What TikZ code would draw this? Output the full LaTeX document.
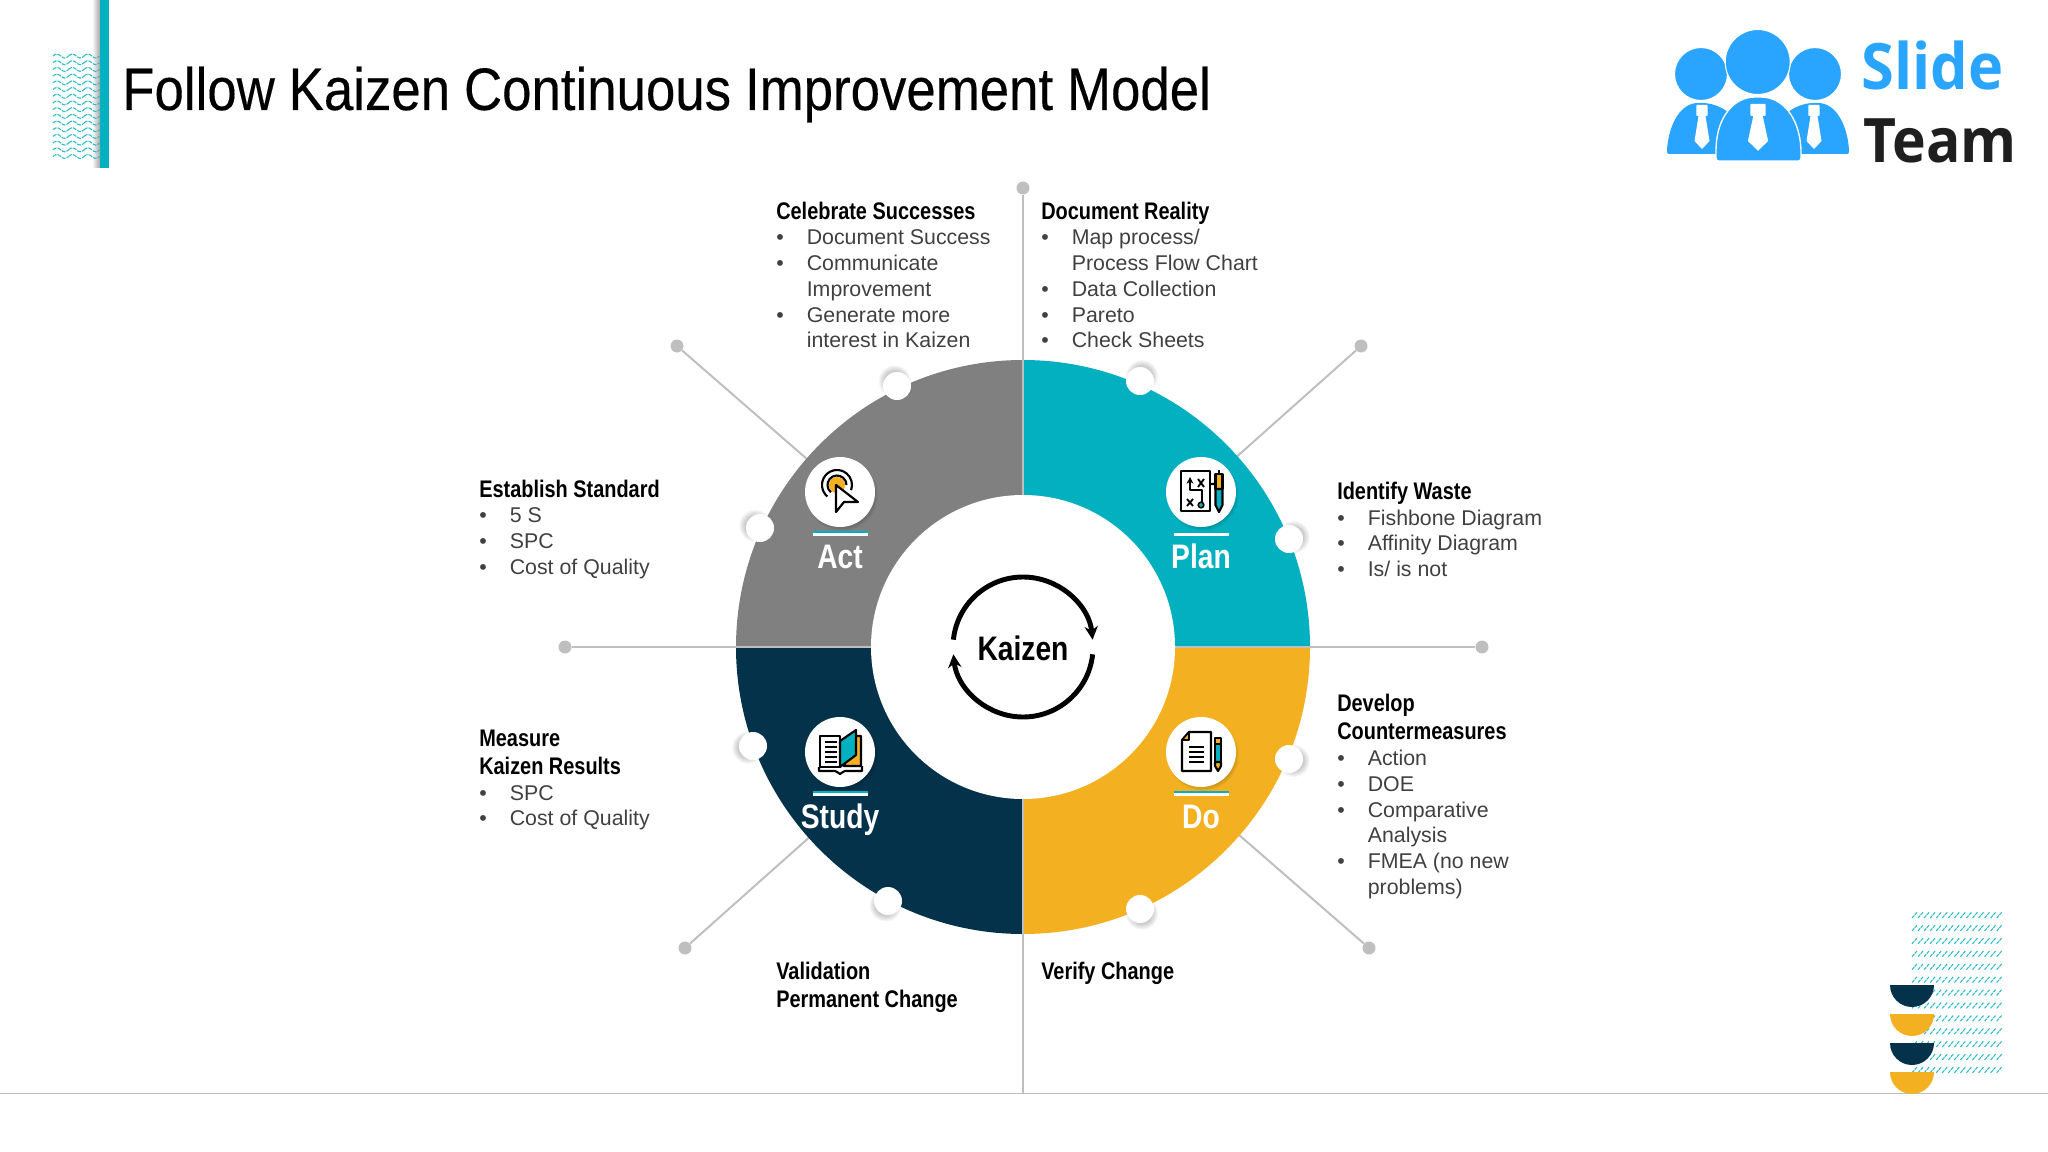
\documentclass[tikz,border=0pt]{standalone}
\usepackage{fontspec}
\usetikzlibrary{arrows.meta}
\setmainfont{Liberation Sans}
\newfontfamily\narrowf[FakeStretch=0.83]{Liberation Sans}
\newfontfamily\titlef[FakeStretch=0.88,WordSpace=0.95,FakeBold=0.25]{Liberation Sans}
\newfontfamily\logof[FakeStretch=0.93]{Open Sans}
\definecolor{plancol}{HTML}{03B0BF}
\definecolor{docol}{HTML}{F3B122}
\definecolor{studycol}{HTML}{04324B}
\definecolor{actcol}{HTML}{808080}
\definecolor{linecol}{HTML}{BFBFBF}
\definecolor{bodycol}{HTML}{404040}
\definecolor{logocol}{HTML}{2AA5FF}
\newcommand{\hd}[1]{{\narrowf\bfseries\color{black}\fontsize{18pt}{19.3pt}\selectfont #1}}
\newcommand{\bl}{\makebox[22.9pt][l]{\textbullet}}
\newcommand{\nb}{\hspace*{22.9pt}}
\newcommand{\softshadow}[3]{\foreach \k in {0,1,2,3,4,5} {\fill[black,opacity=.035] (#1,#2) circle ({#3+\k});}}
\begin{document}
\begin{tikzpicture}[x=0.75pt,y=-0.75pt]
    \tikzstyle{enddot}=[circle, fill=linecol, minimum size=9.75pt, inner sep=0pt]
    \tikzstyle{smalldot}=[circle, fill=white, minimum size=21pt, inner sep=0pt]
    \tikzstyle{icondot}=[circle, fill=white, minimum size=52.5pt, inner sep=0pt]
    \tikzstyle{phase}=[white, font=\narrowf\bfseries\fontsize{25.5pt}{28pt}\selectfont, text height=18pt, text depth=6pt, inner sep=0pt, node distance=51.7pt]
    \tikzstyle{txtblock}=[anchor=north west, align=left, inner sep=0pt, text=bodycol, font=\fontsize{16pt}{19.3pt}\selectfont]
    \tikzstyle{conn}=[draw=linecol, line width=1.5pt]
    \tikzstyle{ink}=[draw=black, line width=1.6pt, line join=round]
    \useasboundingbox (0,0) rectangle (2048,1152);

    % header
    \shade[left color=white, right color=black!35] (92,0) rectangle (100,168);
    \foreach \r in {0,...,15} {
        \foreach \c in {0,1,2} {
            \draw[plancol!85, line width=0.8pt, dash pattern=on 3pt off 0.8pt]
                (53+\c*15.5,56+\r*6.7) sin ++(3.9,-2) cos ++(3.9,2) sin ++(3.9,2) cos ++(3.9,-2);
        }
    }
    \fill[plancol] (100,0) rectangle (109,168);
    \node[anchor=base west, inner sep=0pt, font=\titlef\fontsize{45pt}{54pt}\selectfont] (title) at (122,110) {Follow Kaizen Continuous Improvement Model};

    % logo
    \begin{scope}[fill=logocol]
        \fill[rounded corners=1.5pt] (1667,154) -- (1667,150) .. controls (1669,125) and (1680,103) .. (1700,103) .. controls (1712,103) and (1722,107) .. (1730,114) -- (1730,154) -- cycle;
        \fill[rounded corners=1.5pt] (1849,154) -- (1849,150) .. controls (1847,125) and (1836,103) .. (1816,103) .. controls (1804,103) and (1794,107) .. (1786,114) -- (1786,154) -- cycle;
        \filldraw[draw=white, line width=1pt, rounded corners=2pt] (1716,161) -- (1716,150) .. controls (1717,118) and (1733,97) .. (1758,97) .. controls (1783,97) and (1799,118) .. (1801,150) -- (1801,161) -- cycle;
        \filldraw[draw=white, line width=0.8pt] (1701,74) circle (26.5);
        \filldraw[draw=white, line width=0.8pt] (1815,74) circle (26.5);
        \filldraw[draw=white, line width=0.8pt] (1757.7,62) circle (32.5);
    \end{scope}
    \foreach \t/\w in {1702/1,1814/1,1758/1.35} {
        \fill[white, rounded corners=0.6pt] (\t-5.6*\w,105-3*\w+3) rectangle (\t+5.6*\w,116);
        \fill[white] (\t-3.5*\w,116) -- (\t+3.5*\w,116) -- (\t+7.5*\w,141) -- (\t,149+5*\w-5) -- (\t-7.5*\w,141) -- cycle;
    }
    \node[anchor=base west, inner sep=0pt, text=logocol, font=\logof\bfseries\fontsize{48pt}{52pt}\selectfont] (slide) at (1861,90) {Slide};
    \node[anchor=base west, inner sep=0pt, text=black!88, font=\logof\bfseries\fontsize{46pt}{52pt}\selectfont] (team) at (1863,162) {Team};

    % connectors behind the ring
    \coordinate (hubc) at (1023,647);
    \coordinate (botend) at (1023,1093);
    \node[enddot] (dotN) at (1023,188) {};
    \node[enddot] (dotW) at (565,647) {};
    \node[enddot] (dotE) at (1482,647) {};
    \node[enddot] (dotNW) at (677,346) {};
    \node[enddot] (dotNE) at (1361,346) {};
    \node[enddot] (dotSW) at (685,948) {};
    \node[enddot] (dotSE) at (1369,948) {};
    \foreach \d in {dotNW,dotNE,dotSW,dotSE} {
        \draw[conn] (\d) -- (hubc);
    }
    \draw[black!25, line width=0.75pt] (0,1093) -- (2048,1093);

    % ring
    \fill[plancol] (hubc) -- ++(-90:287) arc (-90:0:287) -- cycle;
    \fill[docol] (hubc) -- ++(0:287) arc (0:90:287) -- cycle;
    \fill[studycol] (hubc) -- ++(90:287) arc (90:180:287) -- cycle;
    \fill[actcol] (hubc) -- ++(180:287) arc (180:270:287) -- cycle;
    \draw[conn] (dotN) -- (botend);
    \draw[conn] (dotW) -- (dotE);
    \fill[white] (hubc) circle (152);

    % small dots on the rim
    \foreach \x/\y [count=\i] in {897/386,1140/381,1289/539,1289/759,1140/909,888/901,753/746,760/528} {
        \softshadow{{\x+(\x-1023)/287*5}}{{\y+(\y-647)/287*5}}{11}
        \node[smalldot] (rim\i) at (\x,\y) {};
    }

    % centre
    \node[inner sep=0pt, font=\narrowf\bfseries\fontsize{25.5pt}{28pt}\selectfont] (hub) at (1023,648.5) {Kaizen};
    \draw[line width=3.7pt, -{Stealth[length=10pt,width=10pt]}] (hubc) ++(186:70) arc (186:354:70);
    \draw[line width=3.7pt, -{Stealth[length=10pt,width=10pt]}] (hubc) ++(6:70) arc (6:174:70);

    % icon circles and labels
    \foreach \x/\y in {840/492,1201/492,840/752,1201/752} {
        \softshadow{{\x+2}}{{\y+3}}{31}
        \fill[plancol] (\x-27.5,\y+38.7) rectangle (\x+27.5,\y+41.3);
        \fill[white] (\x-27.5,\y+41.3) rectangle (\x+27.5,\y+43.7);
    }
    \node[icondot] (icAct) at (840,492) {};
    \node[icondot] (icPlan) at (1201,492) {};
    \node[icondot] (icStudy) at (840,752) {};
    \node[icondot] (icDo) at (1201,752) {};
    \node[phase, below of=icAct] (lbAct) {Act};
    \node[phase, below of=icPlan] (lbPlan) {Plan};
    \node[phase, below of=icStudy] (lbStudy) {Study};
    \node[phase, below of=icDo] (lbDo) {Do};

    % act icon
    \begin{scope}[shift={(840,492)}]
        \fill[docol] (-3,-7) circle (8);
        \draw[ink] (-3,-7) ++(130:15) arc (130:380:15);
        \draw[ink] (-3,-7) ++(130:9.5) arc (130:360:9.5);
        \filldraw[ink, fill=white] (-4,-7) -- (18,10) -- (4,10) -- (-4,20) -- cycle;
    \end{scope}
    % plan icon
    \begin{scope}[shift={(1201,492)}]
        \draw[ink] (-20,-21) rectangle (9,19);
        \draw[ink, -{Stealth[length=5pt,width=5pt]}] (1,12) -- (1,-2) -- (-11,-2) -- (-11,-15);
        \draw[ink, line width=1.4pt] (-3,-13) -- (3,-5) (3,-13) -- (-3,-5);
        \draw[ink, line width=1.4pt] (-14,7) -- (-8,14) (-8,7) -- (-14,14);
        \filldraw[ink, fill=plancol, line width=1.2pt] (0,13) circle (2.8);
        \draw[ink] (13,-8) -- (9,-8) (13,-8) -- (18,-14);
        \draw[ink] (18,-22) -- (18,-18);
        \filldraw[ink, fill=docol] (14.5,-18) -- (21.5,-18) -- (21.5,-3) -- (14.5,-3) -- cycle;
        \filldraw[ink, fill=plancol] (14.5,-3) -- (21.5,-3) -- (21.5,13) -- (18,20) -- (14.5,13) -- cycle;
    \end{scope}
    % study icon
    \begin{scope}[shift={(840,752)}]
        \filldraw[ink, fill=docol] (16,-16) -- (21,-16) -- (21,14) -- (4,14) -- cycle;
        \filldraw[ink, fill=white] (-20,-16) -- (0,-16) -- (0,15) -- (-20,15) -- cycle;
        \foreach \ly in {-10,-5,0,5,10} {
            \draw[ink, line width=1.3pt] (-15,\ly) -- (-3,\ly);
        }
        \filldraw[ink, fill=plancol] (0,-11) -- (16,-22) -- (16,3) -- (0,15) -- cycle;
        \draw[ink] (-21,15) -- (-21,19) -- (-5,19) .. controls (-2,19) and (-2,22) .. (0,22) .. controls (2,22) and (2,19) .. (5,19) -- (22,19) -- (22,14);
    \end{scope}
    % do icon
    \begin{scope}[shift={(1201,752)}]
        \filldraw[ink, fill=white] (-12,-20) -- (10,-20) -- (10,19) -- (-19,19) -- (-19,-12) -- cycle;
        \filldraw[ink, fill=docol, line width=1.2pt] (-12,-20) -- (-12,-12) -- (-19,-12) -- cycle;
        \foreach \ly in {-5,0,5,10} {
            \draw[ink, line width=1.3pt] (-12,\ly) -- (3,\ly);
        }
        \filldraw[ink, fill=docol] (14,-14) -- (20,-14) -- (20,-8) -- (14,-8) -- cycle;
        \filldraw[ink, fill=plancol] (14,-8) -- (20,-8) -- (20,10) -- (14,10) -- cycle;
        \filldraw[ink, fill=docol] (14,10) -- (20,10) -- (20,14) -- (17,19) -- (14,14) -- cycle;
    \end{scope}

    % text blocks
    \node[txtblock] (celebrate) at (776,201) {\strut\hd{Celebrate Successes}\\[-0.15pt] \bl Document Success\\ \bl Communicate\\ \nb Improvement\\ \bl Generate more\\ \nb interest in Kaizen};
    \node[txtblock] (reality) at (1041,201) {\strut\hd{Document Reality}\\[-0.15pt] \bl Map process/\\ \nb Process Flow Chart\\ \bl Data Collection\\ \bl Pareto\\ \bl Check Sheets};
    \node[txtblock] (standard) at (479,479) {\strut\hd{Establish Standard}\\[-0.15pt] \bl 5 S\\ \bl SPC\\ \bl Cost of Quality};
    \node[txtblock] (waste) at (1337,481.5) {\strut\hd{Identify Waste}\\[-0.35pt] \bl Fishbone Diagram\\ \bl Affinity Diagram\\ \bl Is/ is not};
    \node[txtblock] (measure) at (479,728.5) {\strut\hd{Measure}\\[1.6pt] \hd{Kaizen Results}\\[-0.15pt] \bl SPC\\ \bl Cost of Quality};
    \node[txtblock] (counter) at (1337,693) {\strut\hd{Develop}\\[1.6pt] \hd{Countermeasures}\\[0.65pt] \bl Action\\ \bl DOE\\ \bl Comparative\\ \nb Analysis\\ \bl FMEA (no new\\ \nb problems)};
    \node[txtblock] (validation) at (776,961) {\strut\hd{Validation}\\[1.6pt] \hd{Permanent Change}};
    \node[txtblock] (verify) at (1041,961) {\strut\hd{Verify Change}};

    % corner pattern
    \foreach \r in {0,...,12} {
        \foreach \c in {0,...,14} {
            \draw[plancol!85, line width=0.8pt, dash pattern=on 2.5pt off 0.6pt] (1912+\c*6.05,918+\r*12.9) -- ++(5.2,-6);
        }
    }
    \foreach \y/\col in {985/studycol,1014/docol,1043/studycol,1072/docol} {
        \fill[\col] (1890,\y) arc (180:0:22) -- cycle;
    }
\end{tikzpicture}
\end{document}
